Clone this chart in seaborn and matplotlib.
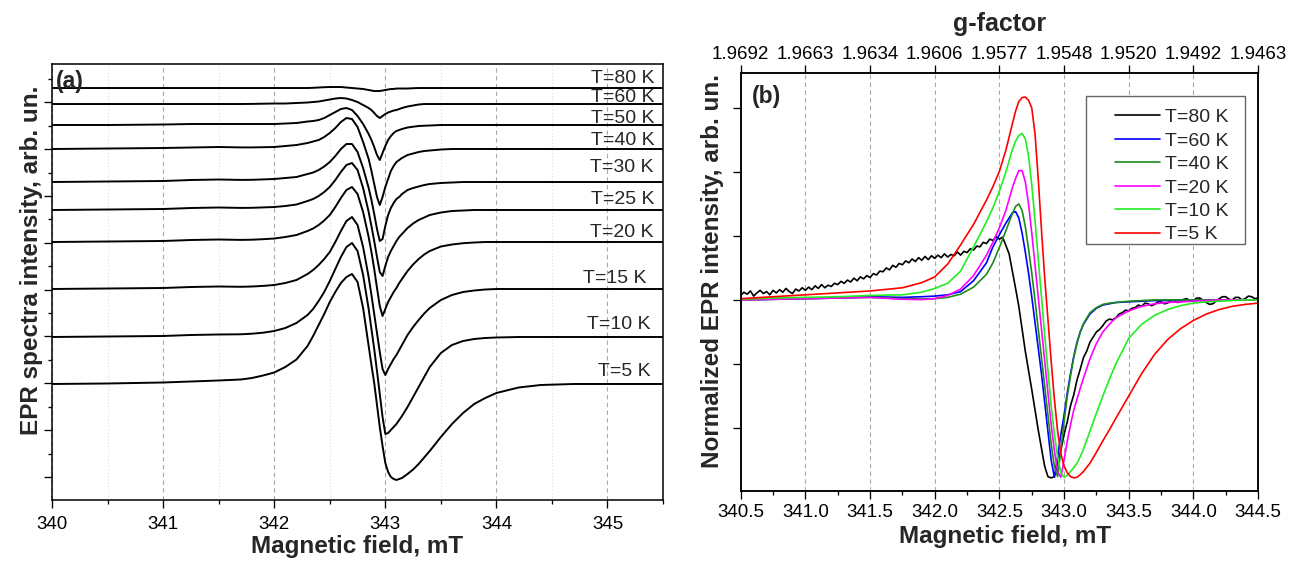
import numpy as np
import pandas as pd
import seaborn as sns
import matplotlib
matplotlib.use("Agg")
import matplotlib.pyplot as plt
from matplotlib.patches import Rectangle
from matplotlib.ticker import MultipleLocator, FixedLocator, NullFormatter, FormatStrFormatter

# ---------------- panel (a): spectra shifted vertically ----------------
field_a = [340.0, 340.5, 341.0, 341.25, 341.5, 341.7, 341.8, 341.9, 342.0, 342.1,
           342.2, 342.3, 342.35, 342.4, 342.45, 342.5, 342.55, 342.6, 342.65, 342.7,
           342.75, 342.8, 342.85, 342.875, 342.9, 342.925, 342.95, 342.975, 343.0, 343.025,
           343.05, 343.075, 343.1, 343.125, 343.15, 343.2, 343.25, 343.3, 343.35, 343.4,
           343.5, 343.6, 343.7, 343.8, 343.9, 344.0, 344.2, 344.4, 344.7, 345.0,
           345.5]
temps_a = ["T=80 K", "T=60 K", "T=50 K", "T=40 K", "T=30 K",
           "T=25 K", "T=20 K", "T=15 K", "T=10 K", "T=5 K"]
offset_a = [412, 396, 375, 351, 318, 290, 258, 211, 163, 116]

spec_a80 = [0, 0, 0, 0, 0, 0, 0, 0, 0, 0, 0,
            0, 0.2, 0.5, 0.8, 1, 1, 1, 0.5, 0, -0.5,
            -1, -2, -2.5, -3, -3, -3, -2.5, -2, -1.5, -1,
            -1, -0.5, -0.5, -0.5, -0.5, -0.2, 0, 0, 0, 0,
            0, 0, 0, 0, 0, 0, 0, 0, 0, 0]
spec_a60 = [0, 0, 0, 0, 0, 0, 0.1, 0.3, 0.5, 0.5, 1,
            1.5, 2, 2.5, 3.5, 4.5, 5.5, 6, 5.5, 4, 2,
            -1, -4, -6, -9, -12, -14, -12, -10, -8.5, -7.5,
            -6.5, -6, -5, -4, -2.5, -1.5, -0.5, 0, 0, 0,
            0, 0, 0, 0, 0, 0, 0, 0, 0, 0]
spec_a50 = [0, 0, 0.5, 1, 1, 1, 1, 1, 1, 1.5, 2,
            3.5, 4, 5, 7, 10, 13, 16, 17, 15, 9,
            1, -9, -15, -22, -30, -35, -28, -21, -15, -11,
            -8, -6, -5, -4, -2.5, -1.7, -1, -0.7, -0.5, 0,
            0, 0, 0, 0, 0, 0, 0, 0, 0, 0]
spec_a40 = [0, 0.5, 1, 1.5, 2, 1.6, 1.6, 1.8, 2, 3, 4,
            6, 7.5, 9, 12, 16, 21, 27, 31, 30, 22,
            7, -10, -22, -35, -48, -56, -48, -38, -30, -22,
            -17, -13, -11, -9, -6, -4.5, -3, -2, -1.5, -0.5,
            0, 0, 0, 0, 0, 0, 0, 0, 0, 0]
spec_a30 = [0, 0.5, 1, 2, 2.5, 2.1, 2.2, 2.6, 3, 4, 5,
            8, 9.5, 12, 15.5, 20, 26, 33, 38, 38, 30,
            14, -6, -18, -32, -47, -59, -57, -44, -33, -26,
            -21, -17, -15, -12, -8, -6, -4.5, -3, -2, -1,
            -0.5, 0, 0, 0, 0, 0, 0, 0, 0, 0]
spec_a25 = [0, 0.5, 1, 2, 2.5, 2.1, 2.2, 2.6, 3, 4, 5.5,
            9, 11, 14, 18, 23, 30, 38, 45, 47, 40,
            22, -2, -16, -31, -47, -62, -66, -56, -47, -41,
            -36, -31, -27, -24, -18, -13.5, -10, -7.5, -5, -2.5,
            -1, -0.5, 0, 0, 0, 0, 0, 0, 0, 0]
spec_a20 = [0, 0.5, 1, 2, 2.5, 2.1, 2.3, 2.8, 3.5, 5, 7,
            11, 13.5, 17, 21.5, 27, 35, 44, 52, 55, 48,
            30, 5, -10, -27, -46, -64, -74, -67, -60, -55,
            -50, -46, -41, -37, -29, -22.5, -17, -12.5, -9, -4.5,
            -2.5, -1.2, -0.5, 0, 0, 0, 0, 0, 0, 0]
spec_a15 = [0, 0.5, 1, 2, 2.5, 2.2, 2.5, 3.1, 4, 6, 9,
            15, 19, 24, 30, 37, 47, 58, 68, 72, 64,
            42, 12, -6, -25, -44, -63, -80, -86, -80, -75,
            -70, -66, -61, -56, -46, -38, -31, -24.5, -19, -11,
            -6, -3, -1.5, -0.5, 0, 0, 0, 0, 0, 0]
spec_a10 = [0, 0.5, 1, 2, 2.5, 2.7, 3.3, 4.3, 6, 9, 14,
            22, 28, 36, 45, 56, 68, 80, 90, 94, 86,
            62, 28, 8, -12, -34, -57, -80, -97, -96, -93,
            -90, -87, -83, -79, -70, -60, -50, -40, -30, -16,
            -8, -4, -2, -1, -0.5, 0, 0, 0, 0, 0]
spec_a5 = [0, 0.5, 1.5, 2.5, 3.5, 4.5, 6, 8.5, 11.5, 17, 24.5,
           38, 48, 59, 70, 82, 92, 101, 107, 110, 102,
           76, 38, 19, 1, -21, -43, -62, -79, -88, -93,
           -95, -96, -95, -94, -90, -85.5, -80, -73.5, -67, -53,
           -40, -29, -20, -14, -9, -3.5, -1, 0, 0, 0]
spectra_a = [spec_a80, spec_a60, spec_a50, spec_a40, spec_a30,
             spec_a25, spec_a20, spec_a15, spec_a10, spec_a5]

# ---------------- panel (b): normalized spectra ----------------
field_b = [340.5, 340.75, 341.0, 341.25, 341.5, 341.75, 341.9, 342.0, 342.1, 342.2,
           342.3, 342.4, 342.45, 342.5, 342.55, 342.6, 342.625, 342.65, 342.675, 342.7,
           342.725, 342.75, 342.775, 342.8, 342.825, 342.85, 342.875, 342.9, 342.925, 342.95,
           342.975, 343.0, 343.025, 343.05, 343.075, 343.1, 343.125, 343.15, 343.2, 343.25,
           343.3, 343.35, 343.4, 343.5, 343.6, 343.7, 343.8, 343.9, 344.0, 344.1,
           344.2, 344.3, 344.4, 344.5]
temps_b = ["T=80 K", "T=60 K", "T=40 K", "T=20 K", "T=10 K", "T=5 K"]

field_b80 = np.linspace(340.5, 344.5, 161)   # 0.025 mT sweep step
spec_b80 = [0.07, 0.12, 0.09, 0.14, 0.06, 0.11, 0.15, 0.10, 0.13, 0.08,
            0.15, 0.11, 0.16, 0.12, 0.18, 0.13, 0.10, 0.17, 0.14, 0.19,
            0.15, 0.20, 0.16, 0.22, 0.18, 0.24, 0.19, 0.23, 0.21, 0.26,
            0.24, 0.29, 0.26, 0.31, 0.28, 0.34, 0.30, 0.36, 0.33, 0.38,
            0.35, 0.41, 0.39, 0.45, 0.44, 0.50, 0.47, 0.54, 0.51, 0.57,
            0.55, 0.61, 0.58, 0.64, 0.60, 0.66, 0.62, 0.68, 0.63, 0.69,
            0.65, 0.70, 0.66, 0.72, 0.67, 0.71, 0.69, 0.75, 0.70, 0.76,
            0.74, 0.80, 0.78, 0.84, 0.83, 0.90, 0.88, 0.95, 0.93, 0.99,
            0.95, 0.98, 0.85, 0.72, 0.45, 0.18, -0.10, -0.45, -0.80, -1.10,
            -1.40, -1.72, -2.03, -2.32, -2.60, -2.76, -2.78, -2.76, -2.55, -2.35,
            -2.10, -1.90, -1.65, -1.48, -1.25, -1.08, -0.90, -0.80, -0.66, -0.58,
            -0.50, -0.46, -0.40, -0.33, -0.30, -0.31, -0.28, -0.22, -0.20, -0.16,
            -0.17, -0.13, -0.12, -0.08, -0.10, -0.05, -0.06, -0.09, -0.07, -0.03,
            -0.03, -0.06, -0.05, -0.01, -0.01, -0.04, -0.03, 0.01, 0.02, -0.02,
            -0.01, 0.03, 0.03, -0.01, -0.04, -0.07, -0.06, -0.02, 0.02, 0.05,
            0.05, 0.01, 0.00, 0.04, 0.04, 0.00, 0.02, 0.06, 0.05, 0.02,
            0.03]
spec_b60 = [0.0, 0.01, 0.02, 0.03, 0.05, 0.04, 0.05, 0.06, 0.08, 0.13,
            0.3, 0.58, 0.83, 1.02, 1.2, 1.36, 1.38, 1.28, 1.05, 0.75,
            0.42, 0.05, -0.35, -0.75, -1.15, -1.6, -2.05, -2.5, -2.77, -2.45,
            -2.1, -1.8, -1.45, -1.15, -0.88, -0.66, -0.5, -0.38, -0.22, -0.13,
            -0.08, -0.06, -0.04, -0.03, -0.02, -0.01, -0.01, 0.0, 0, 0,
            0, 0, 0, 0]
spec_b40 = [0.0, 0.01, 0.02, 0.03, 0.04, 0.02, 0.015, 0.02, 0.04, 0.09,
            0.2, 0.4, 0.58, 0.82, 1.08, 1.35, 1.46, 1.5, 1.4, 1.15,
            0.8, 0.42, 0.0, -0.45, -0.9, -1.35, -1.8, -2.25, -2.6, -2.76,
            -2.35, -1.9, -1.5, -1.18, -0.9, -0.68, -0.5, -0.37, -0.2, -0.12,
            -0.07, -0.05, -0.04, -0.02, -0.01, 0, 0, 0, 0, 0,
            0, 0, 0, 0]
spec_b20 = [0.0, 0.01, 0.02, 0.03, 0.04, 0.01, 0.005, 0.02, 0.07, 0.17,
            0.38, 0.7, 0.9, 1.13, 1.4, 1.75, 1.9, 2.02, 2.02, 1.85,
            1.5, 1.05, 0.55, 0.05, -0.45, -0.95, -1.45, -1.95, -2.35, -2.68,
            -2.77, -2.5, -2.2, -1.95, -1.72, -1.55, -1.38, -1.22, -0.92, -0.68,
            -0.5, -0.38, -0.28, -0.17, -0.1, -0.06, -0.04, -0.03, -0.02, -0.01,
            0, 0, 0, 0]
spec_b10 = [0.01, 0.03, 0.04, 0.05, 0.07, 0.08, 0.12, 0.18, 0.26, 0.45,
            0.83, 1.22, 1.44, 1.7, 2.0, 2.35, 2.48, 2.57, 2.6, 2.52,
            2.25, 1.8, 1.25, 0.65, 0.05, -0.55, -1.1, -1.65, -2.1, -2.45,
            -2.7, -2.77, -2.74, -2.68, -2.62, -2.55, -2.45, -2.33, -2.05, -1.77,
            -1.5, -1.24, -1.0, -0.6, -0.38, -0.24, -0.15, -0.09, -0.05, -0.03,
            -0.02, -0.01, 0, 0]
spec_b5 = [0.02, 0.05, 0.08, 0.11, 0.14, 0.19, 0.27, 0.36, 0.56, 0.86,
           1.18, 1.56, 1.77, 2.01, 2.34, 2.75, 2.95, 3.1, 3.16, 3.17,
           3.12, 3.0, 2.6, 1.9, 1.1, 0.35, -0.3, -0.95, -1.55, -2.05,
           -2.4, -2.6, -2.7, -2.76, -2.78, -2.77, -2.73, -2.68, -2.55, -2.38,
           -2.2, -2.03, -1.85, -1.5, -1.15, -0.85, -0.62, -0.45, -0.32, -0.22,
           -0.15, -0.1, -0.07, -0.05]
colors_b = ["#000000", "#0000ff", "#1a8c1a", "#ff00ff", "#22ee22", "#ff0000"]

g_pos = [340.5, 341.0, 341.5, 342.0, 342.5, 343.0, 343.5, 344.0, 344.5]
g_labels = ["1.9692", "1.9663", "1.9634", "1.9606", "1.9577",
            "1.9548", "1.9520", "1.9492", "1.9463"]

# ---------------- style ----------------
sns.set_style("ticks")
plt.rcParams["font.family"] = ["Liberation Sans", "DejaVu Sans"]
plt.rcParams["axes.edgecolor"] = "black"
plt.rcParams["axes.linewidth"] = 1.1
plt.rcParams["xtick.color"] = "black"
plt.rcParams["ytick.color"] = "black"

fig = plt.figure(figsize=(12.95, 5.64), dpi=100)
axa = fig.add_axes([0.0402, 0.1135, 0.4718, 0.773])
axb = fig.add_axes([0.572, 0.13, 0.3995, 0.7411])

# ---- (a) ----
for name, off, spec in zip(temps_a, offset_a, spectra_a):
    y = np.array(spec) + off
    sns.lineplot(x=field_a, y=y, ax=axa, color="black", linewidth=1.4, estimator=None)

label_y_a = [422, 403, 382, 360, 333, 301, 268, 222, 175, 128]
label_x_a = [345.42, 345.42, 345.42, 345.42, 345.41, 345.42, 345.41, 345.35, 345.39, 345.39]
for name, lx, ly in zip(temps_a, label_x_a, label_y_a):
    axa.text(lx, ly, name, ha="right", va="center", fontsize=14)

axa.set_xlim(340, 345.5)
axa.set_ylim(0, 436)
axa.xaxis.set_major_locator(MultipleLocator(1))
axa.xaxis.set_minor_locator(MultipleLocator(0.5))
axa.yaxis.set_major_locator(FixedLocator([23 + 46.84 * k for k in range(9)]))
axa.yaxis.set_minor_locator(FixedLocator([46.4 + 46.84 * k for k in range(9)]))
axa.yaxis.set_major_formatter(NullFormatter())
axa.tick_params(which="both", direction="out", top=False, right=False, width=0.95)
axa.tick_params(which="major", length=5.8, labelsize=13.5, pad=5.5)
axa.tick_params(which="minor", length=2.6)
axa.grid(axis="x", which="major", linestyle=(0, (4, 3)), color="#aaaaaa", linewidth=0.8)
axa.grid(axis="x", which="minor", linestyle=(0, (1, 2)), color="#dddddd", linewidth=0.8)
axa.set_xlabel("Magnetic field, mT", fontsize=17.5, fontweight="bold")
axa.set_ylabel("EPR spectra intensity, arb. un.", fontsize=17.5, fontweight="bold")
axa.xaxis.set_label_coords(0.5, -0.080)
axa.yaxis.set_label_coords(-0.015, 0.55)
axa.text(0.006, 0.987, "(a)", transform=axa.transAxes, ha="left", va="top",
         fontsize=16.5, fontweight="bold")

# ---- (b) ----
sns.lineplot(x=field_b80, y=spec_b80, ax=axb, color=colors_b[0], linewidth=1.2,
             estimator=None, label=temps_b[0])
for name, spec, col in zip(temps_b[1:], [spec_b60, spec_b40, spec_b20, spec_b10, spec_b5],
                           colors_b[1:]):
    sns.lineplot(x=field_b, y=spec, ax=axb, color=col, linewidth=1.2,
                 estimator=None, label=name)

axb.set_xlim(340.5, 344.5)
axb.set_ylim(-2.98, 3.55)
axb.xaxis.set_major_locator(MultipleLocator(0.5))
axb.xaxis.set_minor_locator(MultipleLocator(0.25))
axb.xaxis.set_major_formatter(FormatStrFormatter("%.1f"))
axb.yaxis.set_major_locator(FixedLocator([-2, -1, 0, 1, 2, 3]))
axb.yaxis.set_major_formatter(NullFormatter())
axb.tick_params(which="both", direction="out", top=False, right=False, width=0.95)
axb.tick_params(which="major", length=5.8, labelsize=13.5, pad=3.5)
axb.tick_params(which="minor", length=2.9)
axb.grid(axis="x", which="major", linestyle=(0, (4, 3)), color="#aaaaaa", linewidth=0.8)
axb.set_xlabel("Magnetic field, mT", fontsize=17.5, fontweight="bold")
axb.set_ylabel("Normalized EPR intensity, arb. un.", fontsize=17.5, fontweight="bold")
axb.xaxis.set_label_coords(0.511, -0.082)
axb.yaxis.set_label_coords(-0.032, 0.526)
axb.text(0.022, 0.97, "(b)", transform=axb.transAxes, ha="left", va="top",
         fontsize=16.5, fontweight="bold")

# legend frame drawn separately so the box matches the original padding
axb.add_patch(Rectangle((0.6675, 0.59), 0.3075, 0.355, transform=axb.transAxes,
                        facecolor="white", edgecolor="#666666", linewidth=1.0, zorder=4))
leg = axb.legend(loc="upper left", bbox_to_anchor=(0.7236, 0.914), fontsize=14,
                 frameon=False, handlelength=2.3, handletextpad=0.25,
                 labelspacing=0.3, borderpad=0, borderaxespad=0)
leg.set_zorder(5)

axt = axb.twiny()
axt.set_xlim(axb.get_xlim())
axt.xaxis.set_major_locator(FixedLocator(g_pos))
axt.set_xticklabels(g_labels)
axt.tick_params(axis="x", direction="out", length=5.8, width=0.95, labelsize=13.5, pad=1.5)
axt.set_xlabel("g-factor", fontsize=18, fontweight="bold")
axt.xaxis.set_label_coords(0.5, 1.10)
axt.grid(False)

fig.savefig("out.png", dpi=100)
